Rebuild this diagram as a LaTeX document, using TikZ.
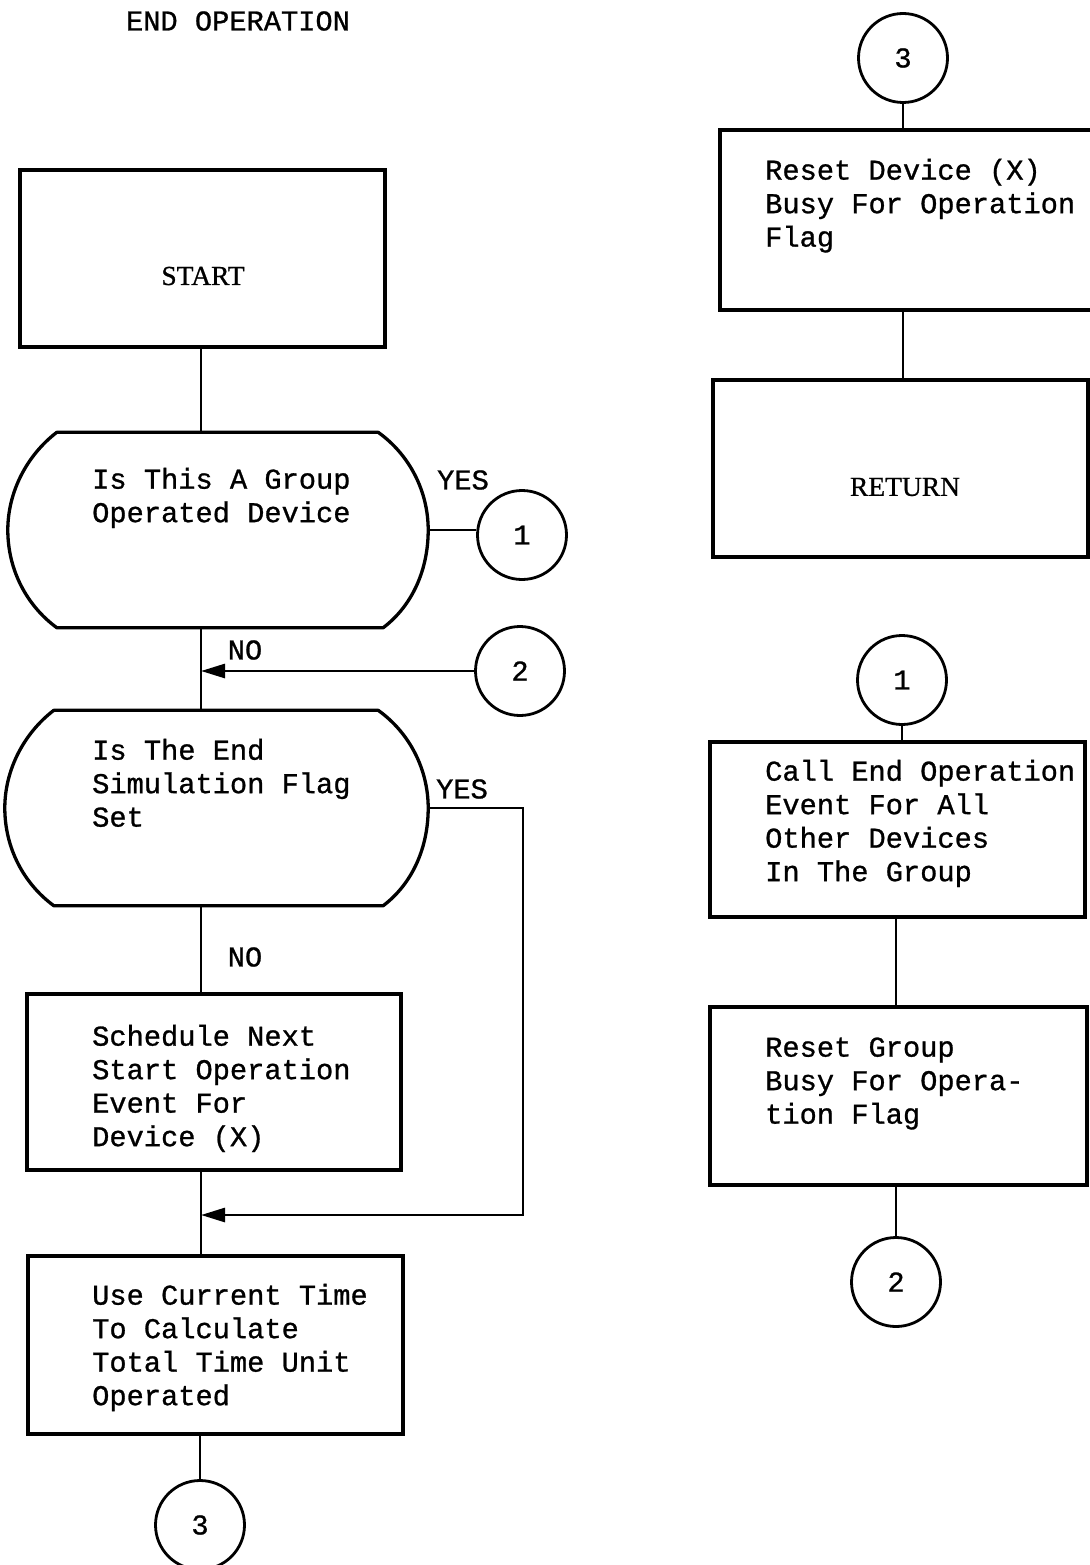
\documentclass[tikz,border=0pt]{standalone}
\usepackage{fontspec}
\setmainfont{Liberation Serif}[FakeBold=0.8]
\newfontfamily\typewriter{Liberation Mono}[FakeBold=0.9]
\usetikzlibrary{arrows.meta,calc}

\newcommand\twfont{\typewriter\fontsize{28.7}{33.5}\selectfont}

% outline of a decision block: flat top and bottom, bulging sides
\newcommand\drawdecision[1]{%
  \draw[outline]
    ($(#1.north west)+(49,0)$) -- ($(#1.north east)+(-50,0)$)
    .. controls ($(#1.north east)+(-18,23)$) and ($(#1.east)+(0,-38)$) .. (#1.east)
    .. controls ($(#1.east)+(0,40)$) and ($(#1.south east)+(-16,-22)$) .. ($(#1.south east)+(-45,0)$)
    -- ($(#1.south west)+(49,0)$)
    .. controls ($(#1.south west)+(19,-22)$) and ($(#1.west)+(0,40)$) .. (#1.west)
    .. controls ($(#1.west)+(0,-38)$) and ($(#1.north west)+(19,23)$) .. cycle;}

\begin{document}
\begin{tikzpicture}[x=1pt,y=-1pt,
  every node/.style={inner sep=0pt},
  outline/.style={line width=3.3pt, line join=round},
  box/.style={draw, rectangle, line width=3.3pt},
  decision/.style={rectangle, draw=none},
  conn/.style={line width=2.8pt},
  circ/.style={draw, circle, line width=2.8pt, minimum size=89pt, font=\twfont},
  txt/.style={font=\twfont, align=left, anchor=north west},
  label/.style={font=\twfont},
  serifword/.style={font=\fontsize{27.5}{31}\selectfont},
  flowarrow/.style={-{Triangle[length=24pt,width=14pt]}}
]
\useasboundingbox (0,0) rectangle (1089,1565);
\fill[white] (0,0) rectangle (1089,1565);

% title
\node[label] (title) at (238,21) {END OPERATION};

% ---------- left column ----------
\node[box, minimum width=365pt, minimum height=177pt] (start) at (202.5,258.5) {};
\node[serifword] (starttext) at (203,276) {START};

\node[decision, minimum width=420pt, minimum height=195pt] (d1) at (218,530) {};
\drawdecision{d1}
\node[txt] (d1text) at (92,465) {\strut Is This A Group\\Operated Device};

\node[decision, minimum width=423pt, minimum height=195pt] (d2) at (216.5,808) {};
\drawdecision{d2}
\node[txt] (d2text) at (92,736) {\strut Is The End\\Simulation Flag\\Set};

\node[box, minimum width=374pt, minimum height=176pt] (sched) at (214,1082) {};
\node[txt] (schedtext) at (92,1022) {\strut Schedule Next\\Start Operation\\Event For\\Device (X)};

\node[box, minimum width=375pt, minimum height=178pt] (use) at (215.5,1345) {};
\node[txt] (usetext) at (92,1281) {\strut Use Current Time\\To Calculate\\Total Time Unit\\Operated};

\node[circ] (c1a) at (522,535) {1};
\node[circ] (c2a) at (520,671) {2};
\node[circ] (c3a) at (200,1525) {3};

\node[label] (yes1) at (463,480) {YES};
\node[label] (no1) at (245,650) {NO};
\node[label] (yes2) at (462,789) {YES};
\node[label] (no2) at (245,957) {NO};

\coordinate (yescorner) at (523,808);
\coordinate (merge) at (201,1215);

\draw[conn] (start.south -| merge) -- (d1.north -| merge);
\draw[conn] (d1.east) -- (d1.east -| c1a.west);
\draw[conn] (d1.south -| merge) -- (d2.north -| merge);
\draw[conn, flowarrow] (c2a.west) -- (c2a.west -| merge);
\draw[conn] (d2.south -| merge) -- (sched.north -| merge);
\draw[conn, flowarrow] (d2.east) -- (yescorner) |- (merge);
\draw[conn] (sched.south -| merge) -- (use.north -| merge);
\draw[conn] (use.south -| c3a) -- (c3a.north);

% ---------- right column ----------
\node[circ] (c3b) at (903,58) {3};
\node[box, minimum width=380pt, minimum height=180pt] (resdev) at (910,220) {};
\node[txt] (resdevtext) at (765,156) {\strut Reset Device (X)\\Busy For Operation\\Flag};

\node[box, minimum width=375pt, minimum height=177pt] (ret) at (900.5,468.5) {};
\node[serifword] (rettext) at (905,487) {RETURN};

\node[circ] (c1b) at (902,680) {1};
\node[box, minimum width=375pt, minimum height=175pt] (call) at (897.5,829.5) {};
\node[txt] (calltext) at (765,757) {\strut Call End Operation\\Event For All\\Other Devices\\In The Group};

\node[box, minimum width=377pt, minimum height=178pt] (resgrp) at (898.5,1096) {};
\node[txt] (resgrptext) at (765,1033) {\strut Reset Group\\Busy For Opera-\\tion Flag};

\node[circ] (c2b) at (896,1282) {2};

\draw[conn] (c3b.south) -- (c3b.south |- resdev.north);
\draw[conn] (resdev.south -| c3b) -- (ret.north -| c3b);
\draw[conn] (c1b.south) -- (c1b.south |- call.north);
\draw[conn] (call.south -| c2b) -- (resgrp.north -| c2b);
\draw[conn] (resgrp.south -| c2b) -- (c2b.north);
\end{tikzpicture}
\end{document}
